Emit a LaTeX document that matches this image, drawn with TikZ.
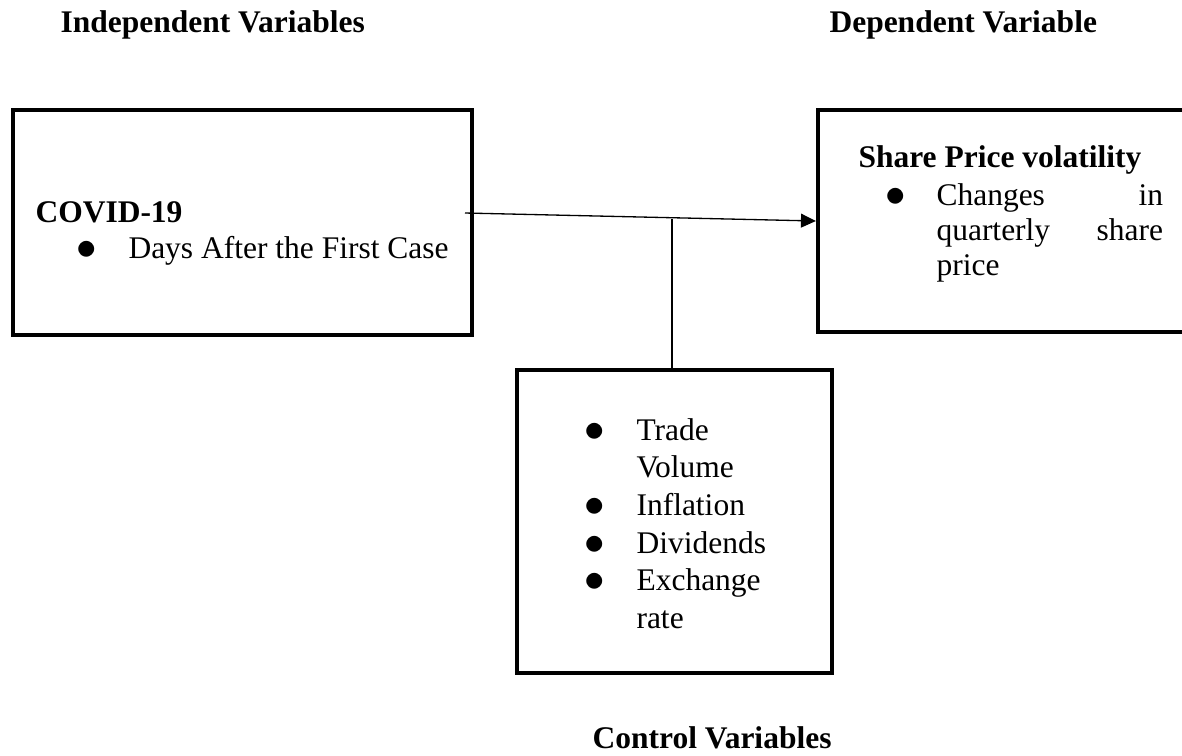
\documentclass[tikz,border=0pt]{standalone}
\usepackage{fontspec}
\setmainfont{Liberation Serif}
\usetikzlibrary{arrows.meta,fit}
\newcommand{\bigbul}{\raisebox{-0.6pt}{\scalebox{1.3}{$\bullet$}}}
\tikzset{
  box/.style={draw, line width=1.6pt, inner sep=0pt},
  txt/.style={anchor=base west, inner sep=0pt, font=\fontsize{12}{14}\selectfont},
  head/.style={txt, font=\fontsize{12}{14}\selectfont\bfseries},
  bul/.style={anchor=base, inner sep=0pt, font=\fontsize{12}{14}\selectfont},
  conn/.style={line width=0.5pt},
  arr/.style={conn, -{Triangle[length=5.7pt,width=5.3pt]}}
}
\begin{document}
\begin{tikzpicture}[x=0.381pt,y=-0.381pt]
\useasboundingbox (0,0) rectangle (1182,756);
\clip (0,0) rectangle (1182,756);
% headings
\node[head] (hiv) at (60,32) {Independent Variables};
\node[head] (hdv) at (829,32) {Dependent Variable};
\node[head, anchor=base east] (hcv) at (832,748) {Control Variables};
% boxes
\node[box, fit={(13,110) (472,335)}] (iv) {};
\node[box, fit={(818,110) (1210,332)}] (dv) {};
\node[box, fit={(517,370) (832,673)}] (cv) {};
% left box text
\node[head] (covid) at (35,222) {COVID-19};
\node[bul] (b1) at (87,258) {\smash{\bigbul}};
\node[txt] (days) at (128,258) {Days After the First Case};
% right box text
\node[head] (spv) at (858,167) {Share Price volatility};
\node[bul] (b2) at (896,205) {\smash{\bigbul}};
\node[txt] (r1) at (936,205) {\makebox[86.3pt][s]{Changes in}};
\node[txt] (r2) at (936,240) {\makebox[86.3pt][s]{quarterly share}};
\node[txt] (r3) at (936,275) {price};
% control box text
\node[bul] (c1b) at (595,440) {\smash{\bigbul}};
\node[txt] (c1) at (636,440) {Trade};
\node[txt] (c1x) at (636,477) {Volume};
\node[bul] (c2b) at (595,515) {\smash{\bigbul}};
\node[txt] (c2) at (636,515) {Inflation};
\node[bul] (c3b) at (595,553) {\smash{\bigbul}};
\node[txt] (c3) at (636,553) {Dividends};
\node[bul] (c4b) at (595,590) {\smash{\bigbul}};
\node[txt] (c4) at (636,590) {Exchange};
\node[txt] (c4x) at (636,628) {rate};
% connectors
\coordinate (a0) at (465,213);
\coordinate (j) at (672,219);
\draw[arr] (a0) -- (dv.west);
\draw[conn] (j) -- (j |- cv.north);
\end{tikzpicture}
\end{document}
